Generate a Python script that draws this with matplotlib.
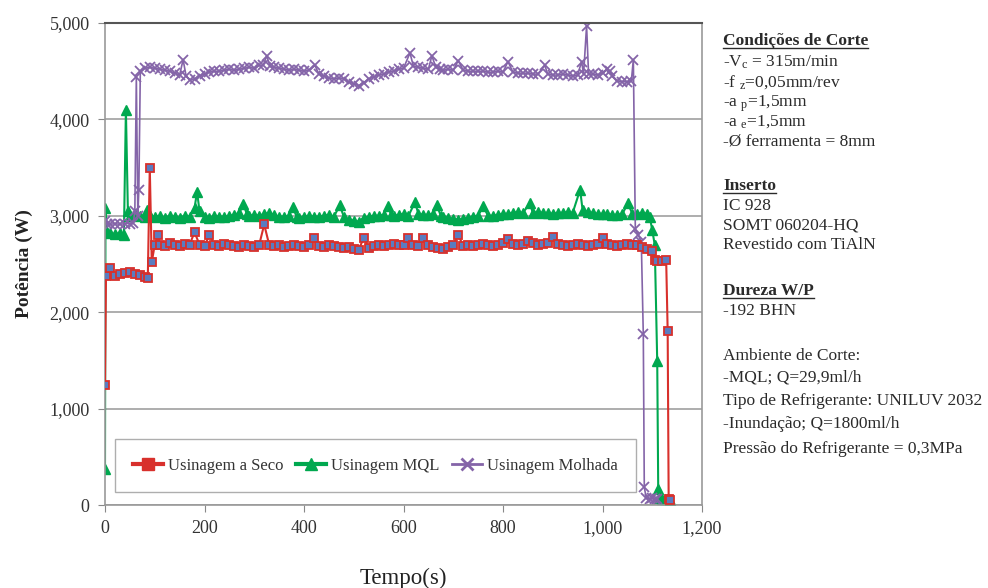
import numpy as np
import matplotlib
matplotlib.use('Agg')
import matplotlib.pyplot as plt
from matplotlib.lines import Line2D
from matplotlib.ticker import FuncFormatter

plt.rcParams['font.family'] = ['Liberation Serif', 'DejaVu Serif']
plt.rcParams['mathtext.fontset'] = 'custom'
plt.rcParams['mathtext.rm'] = 'Liberation Serif'
plt.rcParams['mathtext.it'] = 'Liberation Serif:italic'

# Usinagem a Seco (tempo, potência)
t_seco = [0, 2, 10, 20, 30, 40, 50, 60, 70, 80, 86, 90, 94, 100, 107, 110,
          120, 130, 140, 150, 160, 170, 180, 190, 200, 210, 220, 230, 240, 250,
          260, 270, 280, 290, 300, 310, 320, 330, 340, 350, 360, 370, 380, 390,
          400, 410, 420, 430, 440, 450, 460, 470, 480, 490, 500, 510, 520, 530,
          540, 550, 560, 570, 580, 590, 600, 610, 620, 630, 640, 650, 660, 670,
          680, 690, 700, 710, 720, 730, 740, 750, 760, 770, 780, 790, 800, 810,
          820, 830, 840, 850, 860, 870, 880, 890, 900, 910, 920, 930, 940, 950,
          960, 970, 980, 990, 1000, 1010, 1020, 1030, 1040, 1050, 1060, 1070,
          1080, 1090, 1100, 1105, 1110, 1120, 1128, 1131, 1133, 1136]
p_seco = [1240, 2380, 2460, 2380, 2400, 2410, 2420, 2400, 2390, 2370, 2350, 3500, 2520, 2700, 2800, 2700,
          2690, 2720, 2700, 2690, 2710, 2700, 2830, 2700, 2690, 2800, 2700, 2690, 2710, 2700,
          2690, 2680, 2700, 2690, 2680, 2700, 2910, 2700, 2690, 2700, 2680, 2690, 2700, 2690,
          2680, 2700, 2770, 2690, 2680, 2700, 2690, 2680, 2670, 2680, 2660, 2650, 2770, 2670,
          2690, 2700, 2690, 2700, 2710, 2700, 2700, 2770, 2700, 2690, 2770, 2700, 2680, 2670,
          2660, 2680, 2700, 2800, 2690, 2700, 2690, 2700, 2710, 2700, 2690, 2700, 2720, 2760,
          2710, 2700, 2710, 2740, 2720, 2700, 2710, 2720, 2780, 2710, 2700, 2690, 2700, 2710,
          2700, 2690, 2700, 2710, 2770, 2710, 2700, 2690, 2700, 2710, 2700, 2700,
          2680, 2660, 2640, 2540, 2530, 2530, 2540, 1800, 60, 50]

# Usinagem MQL
t_mql = [0, 1, 4, 10, 20, 30, 38, 42, 46, 50, 60, 70, 80, 85, 90, 100, 110, 120,
         130, 140, 150, 160, 170, 180, 185, 190, 200, 210, 220, 230, 240, 250, 260,
         270, 278, 285, 290, 300, 310, 320, 330, 340, 350, 360, 370, 378, 385, 390,
         400, 410, 420, 430, 440, 450, 460, 472, 480, 490, 500, 510, 520, 530, 540,
         550, 560, 569, 575, 580, 590, 600, 610, 623, 630, 640, 650, 660, 667, 675,
         680, 690, 700, 710, 720, 730, 740, 750, 760, 770, 780, 790, 800, 810, 820,
         830, 840, 854, 860, 870, 880, 890, 900, 910, 920, 930, 940, 955, 960, 970,
         980, 990, 1000, 1010, 1020, 1030, 1040, 1051, 1060, 1070, 1080, 1090, 1095,
         1100, 1105, 1110, 1112, 1115, 1120, 1125, 1130, 1135]
p_mql = [370, 3080, 2830, 2820, 2810, 2820, 2800, 4100, 3050, 3000, 3020, 3000, 2990, 3060, 3000, 2990, 3000, 2980,
         3000, 2990, 2980, 3000, 2990, 3080, 3250, 3050, 2990, 2980, 3000, 2990, 2990, 3000, 3010,
         3030, 3120, 3020, 3000, 3010, 3000, 3020, 3030, 3010, 2990, 2990, 3000, 3090, 2990, 2980,
         2990, 3000, 2990, 2990, 3000, 3010, 2990, 3110, 2990, 2960, 2950, 2940, 2980, 2990, 3000,
         3000, 3010, 3100, 3010, 3000, 3010, 3020, 3000, 3140, 3020, 3010, 3010, 3020, 3110, 3000,
         2990, 2980, 2970, 2960, 2970, 2980, 2990, 3000, 3100, 3000, 3000, 3010, 3020, 3020, 3030,
         3040, 3030, 3130, 3030, 3040, 3030, 3030, 3020, 3030, 3030, 3040, 3030, 3270, 3060, 3040,
         3030, 3020, 3020, 3020, 3010, 3010, 3020, 3130, 3020, 3020, 3030, 3020, 2990,
         2850, 2700, 1490, 170, 70, 60, 60, 60, 50]

# Usinagem Molhada
t_molh = [0, 5, 10, 20, 30, 40, 50, 57, 60, 63, 66, 68, 71, 80, 90, 100, 110, 120,
          130, 140, 150, 157, 163, 170, 180, 190, 200, 210, 220, 230, 240, 250, 260,
          270, 280, 290, 300, 310, 318, 325, 332, 340, 350, 360, 370, 380, 390, 400,
          410, 422, 430, 440, 450, 460, 470, 480, 490, 500, 510, 520, 530, 540, 550,
          560, 570, 580, 590, 600, 613, 620, 630, 640, 650, 657, 665, 673, 680, 690,
          700, 710, 720, 730, 740, 750, 760, 770, 780, 790, 800, 810, 820, 830, 840,
          850, 860, 870, 884, 890, 900, 910, 920, 930, 940, 950, 958, 962, 968, 972,
          980, 990, 1000, 1009, 1015, 1020, 1030, 1040, 1050, 1058, 1062, 1066, 1072,
          1078, 1082, 1084, 1088, 1095, 1100, 1105, 1110]
p_molh = [2950, 2920, 2910, 2920, 2910, 2920, 2920, 2930, 3050, 4440, 3000, 3270, 4500, 4530, 4540, 4530, 4520, 4510,
          4500, 4480, 4460, 4620, 4450, 4410, 4420, 4450, 4470, 4490, 4500, 4500, 4510, 4520, 4510,
          4520, 4530, 4540, 4530, 4560, 4560, 4660, 4550, 4540, 4530, 4520, 4510, 4520, 4510, 4500,
          4510, 4560, 4470, 4450, 4430, 4420, 4430, 4420, 4390, 4370, 4350, 4380, 4420, 4440, 4460,
          4470, 4490, 4500, 4520, 4530, 4690, 4550, 4540, 4530, 4520, 4660, 4540, 4520, 4510, 4520,
          4510, 4610, 4510, 4500, 4500, 4500, 4500, 4490, 4490, 4500, 4490, 4600, 4490, 4480, 4480,
          4480, 4470, 4470, 4560, 4470, 4460, 4460, 4470, 4460, 4450, 4460, 4600, 4470, 4970, 4470,
          4470, 4460, 4480, 4520, 4500, 4450, 4400, 4390, 4390, 4400, 4620, 2860, 2800,
          2730, 1770, 185, 70, 65, 70, 60, 65]

vermelho = '#d8302c'
verde = '#00a84f'
roxo = '#8464a8'

fig = plt.figure(figsize=(9.88, 5.88), dpi=100)
ax = fig.add_axes([105/988, 1 - 505/588, 597/988, 482/588])

ax.plot(t_seco, p_seco, color=vermelho, lw=1.5, marker='s', ms=5.5,
        markerfacecolor='#5a7cc0', markeredgecolor=vermelho, markeredgewidth=1.3, zorder=3)
ax.plot(t_mql, p_mql, color=verde, lw=1.5, marker='^', ms=7,
        markerfacecolor=verde, markeredgecolor=verde, zorder=2)
ax.plot(t_molh, p_molh, color=roxo, lw=1.2, marker='x', ms=6.5,
        markeredgewidth=1.3, zorder=2)

ax.set_xlim(0, 1200)
ax.set_ylim(0, 5000)
ax.set_xticks(range(0, 1201, 200))
ax.set_yticks(range(0, 5001, 1000))
fmt = FuncFormatter(lambda v, pos: f'{v:,.0f}')
ax.xaxis.set_major_formatter(fmt)
ax.yaxis.set_major_formatter(fmt)
ax.tick_params(axis='both', labelsize=13, colors='#888888', labelcolor='#333333', length=5, pad=6)
ax.grid(axis='y', color='#a0a0a0', lw=1.2)
ax.set_axisbelow(True)
for s in ['left', 'right', 'bottom']:
    ax.spines[s].set_color('#999999')
    ax.spines[s].set_linewidth(1.2)
ax.spines['top'].set_color('#555555')
ax.spines['top'].set_linewidth(1.5)

ax.set_ylabel('Potência (W)', fontsize=14, fontweight='bold', color='#222222', labelpad=12)
ax.set_xlabel('Tempo(s)', fontsize=16.5, color='#222222', labelpad=22)

handles = [
    Line2D([], [], color=vermelho, lw=3, marker='s', ms=8, markerfacecolor=vermelho, markeredgecolor=vermelho),
    Line2D([], [], color=verde, lw=3, marker='^', ms=9, markerfacecolor=verde, markeredgecolor=verde),
    Line2D([], [], color=roxo, lw=2, marker='x', ms=9, markeredgewidth=2),
]
leg = ax.legend(handles, ['Usinagem a Seco', 'Usinagem MQL', 'Usinagem Molhada'],
                ncol=3, loc='lower left', bbox_to_anchor=(10/597, 13/482, 521/597, 62/482),
                mode='expand', fontsize=12, frameon=True, fancybox=False,
                edgecolor='#9a9a9a', handlelength=1.8, handletextpad=0.3,
                columnspacing=0.8, borderaxespad=0, borderpad=1.1)
leg.get_frame().set_linewidth(1.0)
for txt in leg.get_texts():
    txt.set_color('#333333')

# texto à direita
linhas = [
    (40, 'Condições de Corte', True),
    (62, r'-V$_\mathrm{c}$ = 315m/min', False),
    (82, r'-f $_\mathrm{z}$=0,05mm/rev', False),
    (102, r'-a $_\mathrm{p}$=1,5mm', False),
    (121, r'-a $_\mathrm{e}$=1,5mm', False),
    (141, '-Ø ferramenta = 8mm', False),
    (185, 'Inserto', True),
    (205, 'IC 928', False),
    (225, 'SOMT 060204-HQ', False),
    (244, 'Revestido com TiAlN', False),
    (290, 'Dureza W/P', True),
    (310, '-192 BHN', False),
    (355, 'Ambiente de Corte:', False),
    (377, '-MQL; Q=29,9ml/h', False),
    (400, 'Tipo de Refrigerante: UNILUV 2032', False),
    (423, '-Inundação; Q=1800ml/h', False),
    (448, 'Pressão do Refrigerante = 0,3MPa', False),
]
textos = []
for y, s, negrito in linhas:
    t = fig.text(723/988, 1 - (y + 5)/588, s, fontsize=12.5, va='baseline', ha='left',
                 fontweight='bold' if negrito else 'normal', color='#2a2a2a')
    textos.append((t, negrito, y))

fig.canvas.draw()
r = fig.canvas.get_renderer()
for t, negrito, y in textos:
    if negrito:
        bb = t.get_window_extent(r)
        yl = 1 - (y + 8) / 588
        fig.add_artist(Line2D([bb.x0 / fig.bbox.width, bb.x1 / fig.bbox.width], [yl, yl],
                              color='#2a2a2a', lw=1.0))

fig.savefig('out.png', dpi=100)
